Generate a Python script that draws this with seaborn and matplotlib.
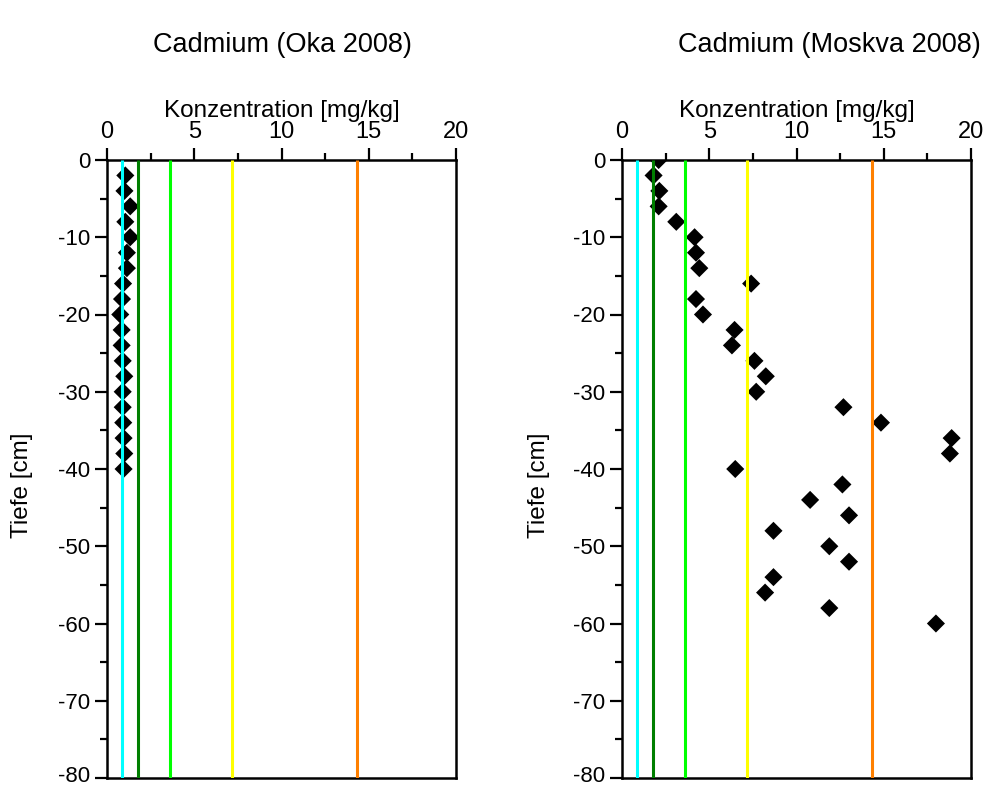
import matplotlib
matplotlib.use("Agg")
import matplotlib.pyplot as plt
import matplotlib.transforms as mtransforms
import seaborn as sns
import pandas as pd
from matplotlib.ticker import MultipleLocator

# ---- data ----
depth_oka = [-2, -4, -6, -8, -10, -12, -14, -16, -18, -20,
             -22, -24, -26, -28, -30, -32, -34, -36, -38, -40]
cd_oka = [1.05, 1.0, 1.33, 1.05, 1.33, 1.14, 1.14, 0.92, 0.86, 0.76,
          0.84, 0.84, 0.9, 0.99, 0.9, 0.9, 0.93, 0.95, 0.99, 0.95]

depth_moskva = [0, -2, -4, -6, -8, -10, -12, -14, -16, -18, -20,
                -22, -24, -26, -28, -30, -32, -34, -36, -38, -40,
                -42, -44, -46, -48, -50, -52, -54, -56, -58, -60]
cd_moskva = [2.1, 1.81, 2.14, 2.1, 3.11, 4.16, 4.24, 4.43, 7.4, 4.24, 4.64,
             6.45, 6.3, 7.59, 8.24, 7.69, 12.69, 14.84, 18.89, 18.79, 6.49,
             12.63, 10.78, 13.01, 8.68, 11.88, 13.01, 8.68, 8.2, 11.88, 17.99]

thresholds = [0.85, 1.8, 3.6, 7.15, 14.3]
threshold_colors = ["#00FFFF", "#007F00", "#00FF00", "#FFFF00", "#FF8000"]

titles = ["Cadmium (Oka 2008)", "Cadmium (Moskva 2008)"]
xlabel = "Konzentration [mg/kg]"
ylabel = "Tiefe [cm]"
xticks = [0, 5, 10, 15, 20]
yticks = [0, -10, -20, -30, -40, -50, -60, -70, -80]

sns.set_theme(style="white")
plt.rcParams["font.family"] = ["Liberation Sans", "DejaVu Sans"]
plt.rcParams["axes.unicode_minus"] = False
for k in ["text.color", "axes.labelcolor", "xtick.color", "ytick.color",
          "axes.edgecolor"]:
    plt.rcParams[k] = "black"

fig = plt.figure(figsize=(9.86, 7.89), dpi=100)
W, H = 986, 789
axes_px = [(107, 160, 456, 778), (622, 160, 971, 778)]
title_x = [282, 829]
ylabel_right_px = [33, 550]

datasets = [
    pd.DataFrame({"cd": cd_oka, "depth": depth_oka}),
    pd.DataFrame({"cd": cd_moskva, "depth": depth_moskva}),
]

for i, (x0, y0, x1, y1) in enumerate(axes_px):
    ax = fig.add_axes([x0 / W, 1 - y1 / H, (x1 - x0) / W, (y1 - y0) / H])
    sns.scatterplot(data=datasets[i], x="cd", y="depth", marker="D", s=85,
                    color="black", edgecolor="none", ax=ax, zorder=2)
    for t, c in zip(thresholds, threshold_colors):
        ax.plot([t, t], [0, -80], color=c, lw=2.2, zorder=3, solid_capstyle="butt")
    ax.set_xlim(0, 20)
    ax.set_ylim(-80, 0)
    ax.set_xticks(xticks)
    ax.set_xticklabels([str(v) for v in xticks])
    ax.set_yticks(yticks)
    ax.set_yticklabels([str(v) for v in yticks])
    ax.xaxis.set_minor_locator(MultipleLocator(2.5))
    ax.yaxis.set_minor_locator(MultipleLocator(5))
    ax.xaxis.tick_top()
    ax.xaxis.set_label_position("top")
    ax.tick_params(axis="x", which="both", direction="out", top=True, bottom=False,
                   labeltop=True, labelbottom=False, width=1.6, color="black",
                   labelsize=17, pad=3)
    ax.tick_params(axis="y", which="both", direction="out", left=True, right=False,
                   width=1.6, color="black", labelsize=16, pad=3)
    ax.tick_params(which="major", length=9)
    ax.tick_params(which="minor", length=5)
    # keep the lowest tick label inside the canvas
    for lab in ax.get_yticklabels():
        if lab.get_text() == "-80":
            lab.set_transform(lab.get_transform() +
                              mtransforms.ScaledTranslation(0, 4 / 100, fig.dpi_scale_trans))
    ax.set_xlabel(xlabel, fontsize=17.5, labelpad=3)
    ax.set_ylabel(ylabel, fontsize=17.5)
    ax.yaxis.set_label_coords((ylabel_right_px[i] - x0) / (x1 - x0),
                              (y1 - 485) / (y1 - y0))
    for sp in ax.spines.values():
        sp.set_visible(True)
        sp.set_color("black")
        sp.set_linewidth(1.8)
    ax.set_facecolor("white")
    fig.text(title_x[i] / W, 1 - 45 / H, titles[i], ha="center", va="center",
             fontsize=19.5)

fig.savefig("out.png", dpi=100, facecolor="white")
